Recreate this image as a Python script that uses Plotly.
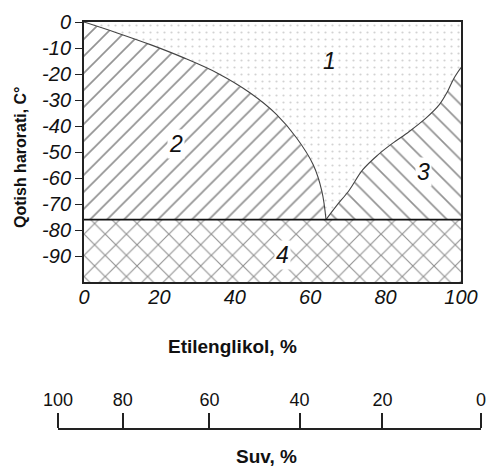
import plotly.graph_objects as go

# ---- data ----
x_min, x_max = 0, 100
y_min, y_max = -100, 0
eutectic_temp = -76

# boundary between region 1 (liquid) and region 2 (ice + solution)
left_curve_x = [0, 8.8, 17.6, 26.5, 35.3, 44.1, 51.1, 56.4, 60.8, 63.1, 64.2]
left_curve_y = [0, -4.2, -8.7, -13.8, -19.6, -27.3, -35.6, -44.6, -54.9, -65.1, -76]

# boundary between region 1 and region 3 (glycol crystals + solution)
right_curve_x = [64.2, 66.8, 70.4, 73.9, 77.9, 81.8, 86.2, 90.7, 94.2, 96.4, 98.1, 100]
right_curve_y = [-76, -71, -64.6, -56.9, -51.2, -46.7, -42.2, -37, -31.9, -26.8, -21.7, -17.5]

x_tick_vals = [0, 20, 40, 60, 80, 100]
x_tick_text = ["0", "20", "40", "60", "80", "100"]
y_tick_vals = [0, -10, -20, -30, -40, -50, -60, -70, -80, -90]
y_tick_text = ["0", "-10", "-20", "-30", "-40", "-50", "-60", "-70", "-80", "-90"]

suv_tick_pos = [100, 84.7, 64.2, 42.9, 23.3, 0]
suv_tick_text = ["100", "80", "60", "40", "20", "0"]

region_labels = ["1", "2", "3", "4"]
region_label_x = [65, 24.4, 90, 52.6]
region_label_y = [-15, -46.8, -57.7, -89.6]

# ---- page geometry ----
W, H = 487, 466


def px(p):
    return p / W


def py(p):
    return 1 - p / H


FONT = "Liberation Sans, Arial, sans-serif"
HATCH = "#262626"

fig = go.Figure()

# region 1: dotted
r1x = left_curve_x + right_curve_x[1:] + [x_max, x_min]
r1y = left_curve_y + right_curve_y[1:] + [y_max, y_max]
fig.add_trace(go.Scatter(x=r1x, y=r1y, fill="toself", mode="none",
                         fillcolor="white",
                         fillpattern=dict(shape=".", size=7, solidity=0.08,
                                          fgcolor="#a6a6a6", bgcolor="white"),
                         hoverinfo="skip", showlegend=False))
# region 2: "/" hatch
r2x = left_curve_x + [x_min]
r2y = left_curve_y + [eutectic_temp]
fig.add_trace(go.Scatter(x=r2x, y=r2y, fill="toself", mode="none",
                         fillcolor="white",
                         fillpattern=dict(shape="/", size=12, solidity=0.14,
                                          fgcolor=HATCH, bgcolor="white"),
                         hoverinfo="skip", showlegend=False))
# region 3: "\" hatch
r3x = right_curve_x + [x_max]
r3y = right_curve_y + [eutectic_temp]
fig.add_trace(go.Scatter(x=r3x, y=r3y, fill="toself", mode="none",
                         fillcolor="white",
                         fillpattern=dict(shape="\\", size=13, solidity=0.13,
                                          fgcolor=HATCH, bgcolor="white"),
                         hoverinfo="skip", showlegend=False))
# region 4: cross hatch
r4x = [x_min, x_max, x_max, x_min]
r4y = [eutectic_temp, eutectic_temp, y_min, y_min]
fig.add_trace(go.Scatter(x=r4x, y=r4y, fill="toself", mode="none",
                         fillcolor="white",
                         fillpattern=dict(shape="x", size=15, solidity=0.15,
                                          fgcolor=HATCH, bgcolor="white"),
                         hoverinfo="skip", showlegend=False))

# boundary curves
fig.add_trace(go.Scatter(x=left_curve_x, y=left_curve_y, mode="lines",
                         line=dict(color="#444", width=1.1, shape="spline"),
                         hoverinfo="skip", showlegend=False))
fig.add_trace(go.Scatter(x=right_curve_x, y=right_curve_y, mode="lines",
                         line=dict(color="#444", width=1.1, shape="spline"),
                         hoverinfo="skip", showlegend=False))
# eutectic line
fig.add_trace(go.Scatter(x=[x_min, x_max], y=[eutectic_temp, eutectic_temp],
                         mode="lines", line=dict(color="#111", width=1.6),
                         hoverinfo="skip", showlegend=False))

# secondary (water) axis carrier
fig.add_trace(go.Scatter(x=[suv_tick_pos[0], suv_tick_pos[-1]], y=[0, 0],
                         xaxis="x2", yaxis="y2", mode="markers",
                         marker=dict(opacity=0), hoverinfo="skip",
                         showlegend=False))

for t, lx, ly in zip(region_labels, region_label_x, region_label_y):
    fig.add_annotation(x=lx, y=ly, text="<i>" + t + "</i>", showarrow=False,
                       font=dict(family=FONT, size=23, color="#111"),
                       bgcolor="white" if t != "1" else "rgba(0,0,0,0)",
                       borderpad=1)

fig.add_annotation(xref="paper", yref="paper", x=px(232), y=py(346),
                   xanchor="center", yanchor="middle",
                   text="<b>Etilenglikol, %</b>", showarrow=False,
                   font=dict(family=FONT, size=19, color="#111"))
fig.add_annotation(xref="paper", yref="paper", x=px(266), y=py(456),
                   xanchor="center", yanchor="middle",
                   text="<b>Suv, %</b>", showarrow=False,
                   font=dict(family=FONT, size=19, color="#111"))
fig.add_annotation(xref="paper", yref="paper", x=px(20), y=py(157),
                   xanchor="center", yanchor="middle",
                   text="<b>Qotish harorati, C°</b>", showarrow=False,
                   textangle=-90,
                   font=dict(family=FONT, size=16, color="#111"))

fig.update_layout(
    width=W, height=H,
    margin=dict(l=0, r=0, t=0, b=0, autoexpand=False),
    paper_bgcolor="white", plot_bgcolor="white",
    xaxis=dict(domain=[px(84), px(461)], range=[x_min, x_max],
               automargin=False, ticklabelstandoff=-4,
               tickvals=x_tick_vals, ticktext=x_tick_text,
               showgrid=False, zeroline=False, ticks="",
               showline=True, mirror=True, linecolor="#222", linewidth=2,
               tickfont=dict(family=FONT, size=20, color="#111", style="italic")),
    yaxis=dict(domain=[py(282), py(22)], range=[y_min, y_max],
               automargin=False,
               tickvals=y_tick_vals, ticktext=y_tick_text,
               showgrid=False, zeroline=False, ticks="outside", ticklen=7,
               tickcolor="#222", tickwidth=1,
               showline=True, mirror=True, linecolor="#222", linewidth=2,
               tickfont=dict(family=FONT, size=20, color="#111", style="italic")),
    xaxis2=dict(domain=[px(58), px(481)], range=[100.02, -0.02], anchor="y2",
                automargin=False,
                side="top", tickvals=suv_tick_pos, ticktext=suv_tick_text,
                showgrid=False, zeroline=False, ticks="outside", ticklen=15,
                tickwidth=1.5, tickcolor="#222",
                showline=True, linecolor="#222", linewidth=1.5,
                tickfont=dict(family=FONT, size=18, color="#111")),
    yaxis2=dict(domain=[0, py(430)], visible=False, range=[-1, 0],
                automargin=False),
)

fig.write_html(
    "out.html",
    config={"displayModeBar": False},
    post_script=("document.body.style.margin='0';"
                 "document.body.style.overflow='hidden';"),
)
